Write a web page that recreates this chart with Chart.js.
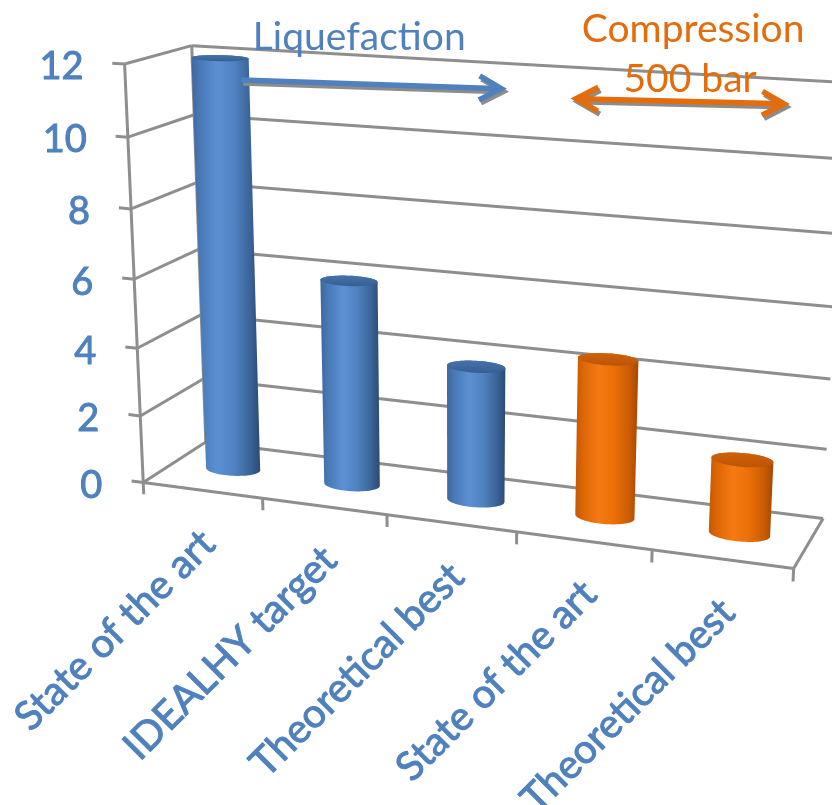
<!DOCTYPE html>
<html>
<head>
<meta charset="utf-8">
<title>Specific energy consumption – liquefaction vs compression</title>
<script src="https://cdn.jsdelivr.net/npm/chart.js@4.4.1/dist/chart.umd.min.js"></script>
<style>
  html, body { margin: 0; padding: 0; background: #ffffff; }
  #wrap { width: 832px; height: 805px; position: relative; }
</style>
</head>
<body>
<div id="wrap"><canvas id="chart"></canvas></div>
<script>
// ---- data -------------------------------------------------------------
const categories = ['State of the art', 'IDEALHY target', 'Theoretical best', 'State of the art', 'Theoretical best'];
const groups     = ['Liquefaction', 'Liquefaction', 'Liquefaction', 'Compression', 'Compression'];
const values     = [12, 6, 3.9, 4.5, 2.1];
const yTicks     = [0, 2, 4, 6, 8, 10, 12];

// ---- look -------------------------------------------------------------
const FONT = 'Lato, "Open Sans", "DejaVu Sans", sans-serif';
const GRID = '#8e8e8e';
const palette = {
  Liquefaction: {
    text: '#4f81bd',
    side: [[0, '#3f679c'], [0.12, '#4878b5'], [0.38, '#5b90d3'], [0.62, '#4f82c1'], [0.86, '#3a6397'], [1, '#2b4a73']],
    top: ['#4573ab', '#365f93']
  },
  Compression: {
    text: '#e46c0a',
    side: [[0, '#c45803'], [0.12, '#dc6606'], [0.38, '#f57a12'], [0.62, '#ec6f08'], [0.86, '#c95b02'], [1, '#a44700']],
    top: ['#cf6109', '#bd5505']
  }
};
const BOX_ASPECT = 3.3;   // plot box width / depth
const BAR_DEPTH = 0.5;    // bars stand halfway between front and back wall

// Where the corners and a few tick points of the plot box land on screen:
// [u (0..1 across), v (0..1 up), depth (0 front .. 1 back), screen x, screen y]
const boxAnchors = [
  [0, 0, 0, 143, 483], [1, 0, 0, 795, 567], [1, 0, 1, 823, 518], [0, 0, 1, 207, 441],
  [0, 1, 0, 126, 64],  [0, 1, 1, 190, 46],  [1, 1, 1, 846, 83],  [1, 2 / 12, 1, 827, 450],
  [0.2, 0, 0, 263, 500], [0.4, 0, 0, 386, 515], [0.6, 0, 0, 517, 532], [0.8, 0, 0, 650, 550],
  [0, 2 / 12, 0, 140, 416], [0, 4 / 12, 0, 137, 348], [0, 6 / 12, 0, 134.5, 279],
  [0, 8 / 12, 0, 131, 208], [0, 10 / 12, 0, 128, 137]
];

// Bracket arrows above the bars, in category-index / value terms on the back wall.
const brackets = [
  { group: 'Liquefaction', from: [-0.09, 11.1], to: [2.0, 11.3], heads: 'end',
    lines: [['Liquefaction', -12, -34.5]] },
  { group: 'Compression', from: [2.57, 11.15], to: [4.08, 11.35], heads: 'both',
    lines: [['Compression', 13, -59.5], ['500 bar', 10, -9.5]] }
];

// ---- perspective ---------------------------------------------------------
// Least-squares fit of a 3x4 projective camera to the anchor points.
function fitProjection(pts) {
  const n = 11;
  const M = Array.from({ length: n }, () => new Array(n + 1).fill(0));
  const addRow = (row, rhs) => {
    for (let i = 0; i < n; i++) {
      for (let j = 0; j < n; j++) M[i][j] += row[i] * row[j];
      M[i][n] += row[i] * rhs;
    }
  };
  for (const [X, Y, Z, x, y] of pts) {
    addRow([X, Y, Z, 1, 0, 0, 0, 0, -x * X, -x * Y, -x * Z], x);
    addRow([0, 0, 0, 0, X, Y, Z, 1, -y * X, -y * Y, -y * Z], y);
  }
  for (let c = 0; c < n; c++) {
    let p = c;
    for (let r = c + 1; r < n; r++) if (Math.abs(M[r][c]) > Math.abs(M[p][c])) p = r;
    [M[c], M[p]] = [M[p], M[c]];
    for (let r = 0; r < n; r++) {
      if (r === c) continue;
      const f = M[r][c] / M[c][c];
      for (let k = c; k <= n; k++) M[r][k] -= f * M[c][k];
    }
  }
  const m = M.map((row, i) => row[n] / row[i]);
  return (X, Y, Z) => {
    const w = m[8] * X + m[9] * Y + m[10] * Z + 1;
    return [(m[0] * X + m[1] * Y + m[2] * Z + m[3]) / w,
            (m[4] * X + m[5] * Y + m[6] * Z + m[7]) / w];
  };
}
const project = fitProjection(boxAnchors);

function convexHull(points) {
  const p = points.slice().sort((a, b) => a[0] - b[0] || a[1] - b[1]);
  const cross = (o, a, b) => (a[0] - o[0]) * (b[1] - o[1]) - (a[1] - o[1]) * (b[0] - o[0]);
  const lower = [], upper = [];
  for (const q of p) {
    while (lower.length >= 2 && cross(lower[lower.length - 2], lower[lower.length - 1], q) <= 0) lower.pop();
    lower.push(q);
  }
  for (let i = p.length - 1; i >= 0; i--) {
    const q = p[i];
    while (upper.length >= 2 && cross(upper[upper.length - 2], upper[upper.length - 1], q) <= 0) upper.pop();
    upper.push(q);
  }
  upper.pop(); lower.pop();
  return lower.concat(upper);
}

// text with a hairline outline in its own colour, to give it some weight
function heavyText(ctx, txt, x, y) {
  ctx.fillText(txt, x, y);
  ctx.strokeText(txt, x, y);
}

// ---- scene drawn through the chart's scales --------------------------------
const scene3d = {
  id: 'scene3d',
  beforeDatasetsDraw(chart) {
    const ctx = chart.ctx, ca = chart.chartArea;
    const xs = chart.scales.x, ys = chart.scales.y;
    const U = px => (px - ca.left) / (ca.right - ca.left);
    const V = py => (ca.bottom - py) / (ca.bottom - ca.top);
    const uOf = idx => U(xs.getPixelForValue(idx));
    const vOf = val => V(ys.getPixelForValue(val));
    const P = project;
    const count = chart.data.labels.length;

    const seg = (a, b) => { ctx.beginPath(); ctx.moveTo(a[0], a[1]); ctx.lineTo(b[0], b[1]); ctx.stroke(); };
    const poly = pts => { ctx.beginPath(); pts.forEach((q, i) => i ? ctx.lineTo(q[0], q[1]) : ctx.moveTo(q[0], q[1])); ctx.closePath(); };

    ctx.save();
    ctx.lineCap = 'butt';
    ctx.strokeStyle = GRID;
    ctx.lineWidth = 3;

    // side wall and back wall gridlines
    for (const t of ys.ticks) {
      const v = vOf(t.value);
      seg(P(0, v, 0), P(0, v, 1));
      seg(P(0, v, 1), P(1, v, 1));
    }
    seg(P(0, 0, 1), P(0, 1, 1));
    seg(P(1, 0, 0), P(1, 0, 1));

    // cylinders
    const meta = chart.getDatasetMeta(0);
    meta.data.forEach((el, i) => {
      const col = palette[groups[i]];
      const uc = U(el.x);
      const ru = (el.width / 2) / (ca.right - ca.left);
      const rz = ru * BOX_ASPECT;
      const v0 = V(el.base), v1 = V(el.y);
      const bottom = [], top = [];
      const N = 72;
      for (let k = 0; k < N; k++) {
        const th = (2 * Math.PI * k) / N;
        bottom.push(P(uc + ru * Math.cos(th), v0, BAR_DEPTH + rz * Math.sin(th)));
        top.push(P(uc + ru * Math.cos(th), v1, BAR_DEPTH + rz * Math.sin(th)));
      }
      const hull = convexHull(bottom.concat(top));
      const xMin = Math.min(...hull.map(q => q[0])), xMax = Math.max(...hull.map(q => q[0]));
      const g = ctx.createLinearGradient(xMin, 0, xMax, 0);
      col.side.forEach(([o, c]) => g.addColorStop(o, c));
      poly(hull); ctx.fillStyle = g; ctx.fill();

      const tMin = Math.min(...top.map(q => q[1])), tMax = Math.max(...top.map(q => q[1]));
      const gt = ctx.createLinearGradient(0, tMin, 0, tMax);
      gt.addColorStop(0, col.top[0]); gt.addColorStop(1, col.top[1]);
      poly(top); ctx.fillStyle = gt; ctx.fill();
    });

    // floor front edge with category ticks
    ctx.strokeStyle = GRID;
    ctx.lineWidth = 3;
    seg(P(0, 0, 0), P(1, 0, 0));
    for (let k = 0; k <= count; k++) {
      const u = uOf(k - 0.5);
      seg(P(u, 0, 0), P(u, vOf(-0.36), 0));
    }
    // value axis on the front-left edge
    seg(P(0, 0, 0), P(0, 1, 0));
    const uTick = uOf(-0.6);
    for (const t of ys.ticks) {
      const v = vOf(t.value);
      seg(P(uTick, v, 0), P(0, v, 0));
    }
    ctx.fillStyle = palette.Liquefaction.text;
    ctx.strokeStyle = palette.Liquefaction.text;
    ctx.lineWidth = 1;
    ctx.font = '38px ' + FONT;
    ctx.textAlign = 'right';
    ctx.textBaseline = 'middle';
    for (const t of ys.ticks) {
      const a = P(0, vOf(t.value), 0);
      heavyText(ctx, String(t.value), a[0] - 41, a[1] + 3);
    }

    // rotated category labels
    ctx.font = '40px ' + FONT;
    chart.data.labels.forEach((lab, i) => {
      const a = P(uOf(i), 0, 0);
      ctx.save();
      ctx.translate(a[0] + 6, a[1] + 47);
      ctx.rotate(-Math.PI / 4);
      ctx.textAlign = 'right';
      ctx.textBaseline = 'middle';
      heavyText(ctx, lab, 0, 0);
      ctx.restore();
    });

    // bracket arrows with captions
    const drawArrow = (a, b, heads, color, dx, dy) => {
      const ang = Math.atan2(b[1] - a[1], b[0] - a[0]);
      const L = 25, spread = 0.5;
      ctx.strokeStyle = color;
      ctx.lineWidth = 5.5;
      ctx.lineJoin = 'miter';
      const ax = a[0] + dx, ay = a[1] + dy, bx = b[0] + dx, by = b[1] + dy;
      seg([ax, ay], [bx, by]);
      const head = (tx, ty, dir) => {
        ctx.beginPath();
        ctx.moveTo(tx - L * Math.cos(dir - spread), ty - L * Math.sin(dir - spread));
        ctx.lineTo(tx, ty);
        ctx.lineTo(tx - L * Math.cos(dir + spread), ty - L * Math.sin(dir + spread));
        ctx.stroke();
      };
      head(bx, by, ang);
      if (heads === 'both') head(ax, ay, ang + Math.PI);
    };
    for (const br of brackets) {
      const a = P(uOf(br.from[0]), vOf(br.from[1]), 1), b = P(uOf(br.to[0]), vOf(br.to[1]), 1);
      const color = palette[br.group].text;
      drawArrow(a, b, br.heads, '#8c8c8c', 2, 3);
      drawArrow(a, b, br.heads, color, 0, 0);
      const mx = (a[0] + b[0]) / 2, my = (a[1] + b[1]) / 2;
      ctx.fillStyle = color;
      ctx.font = '39px ' + FONT;
      ctx.textAlign = 'center';
      ctx.textBaseline = 'alphabetic';
      for (const [txt, ox, oy] of br.lines) ctx.fillText(txt, mx + ox, my + oy);
    }
    ctx.restore();
    return false;
  }
};

new Chart(document.getElementById('chart'), {
  type: 'bar',
  data: {
    labels: categories,
    datasets: [{
      label: 'kWh/kg',
      data: values,
      backgroundColor: groups.map(g => palette[g].text),
      barPercentage: 0.44,
      categoryPercentage: 1
    }]
  },
  options: {
    responsive: true,
    maintainAspectRatio: false,
    animation: false,
    layout: { padding: 0 },
    plugins: { legend: { display: false }, tooltip: { enabled: false } },
    scales: {
      x: { display: false },
      y: {
        display: false,
        min: yTicks[0],
        max: yTicks[yTicks.length - 1],
        ticks: { stepSize: yTicks[1] - yTicks[0] }
      }
    }
  },
  plugins: [scene3d]
});
</script>
</body>
</html>
